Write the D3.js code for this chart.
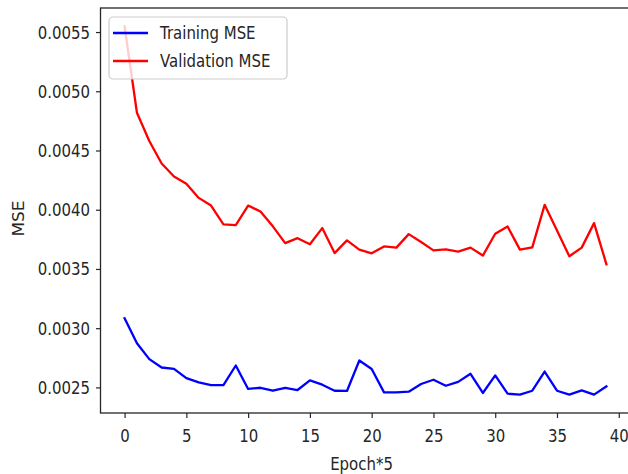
<!DOCTYPE html>
<html>
<head>
<meta charset="utf-8">
<script src="https://cdn.jsdelivr.net/npm/d3@7"></script>
<style>
  html, body { margin: 0; padding: 0; background: #fff; }
  svg { display: block; }
  text { font-family: "DejaVu Sans", sans-serif; fill: #262626; }
</style>
</head>
<body>
<svg id="chart" width="628" height="474"></svg>
<script>
// Epoch index (each step = 5 epochs)
const epochs = d3.range(0, 40);

const trainingMSE = [
  0.003083, 0.002873, 0.002739, 0.002668, 0.002657, 0.002579, 0.002542, 0.002520, 0.002520, 0.002685,
  0.002487, 0.002497, 0.002472, 0.002497, 0.002478, 0.002559, 0.002523, 0.002472, 0.002470, 0.002727,
  0.002655, 0.002458, 0.002458, 0.002464, 0.002529, 0.002565, 0.002514, 0.002547, 0.002615, 0.002453,
  0.002601, 0.002447, 0.002439, 0.002472, 0.002634, 0.002472, 0.002439, 0.002475, 0.002439, 0.002508
];

const validationMSE = [
  0.005548, 0.004819, 0.004580, 0.004390, 0.004280, 0.004220, 0.004100, 0.004035, 0.003876, 0.003870,
  0.004035, 0.003985, 0.003860, 0.003718, 0.003760, 0.003708, 0.003845, 0.003634, 0.003741, 0.003663,
  0.003632, 0.003690, 0.003680, 0.003794, 0.003727, 0.003657, 0.003665, 0.003646, 0.003680, 0.003613,
  0.003797, 0.003859, 0.003663, 0.003682, 0.004041, 0.003825, 0.003607, 0.003680, 0.003887, 0.003540
];

const xTicks = [0, 5, 10, 15, 20, 25, 30, 35, 40];
const yTicks = [0.0025, 0.0030, 0.0035, 0.0040, 0.0045, 0.0050, 0.0055];

const series = [
  { name: "Training MSE", values: trainingMSE, color: "#0000ff" },
  { name: "Validation MSE", values: validationMSE, color: "#ff0000" }
];

const svg = d3.select("#chart");
const plot = { left: 100.5, right: 630.5, top: 8, bottom: 413 };
const sx = 0.88;     // horizontal squeeze of glyphs
const fontSize = 17;

const x = d3.scaleLinear().domain([-1.95, 40.95]).range([plot.left, plot.right]);
const y = d3.scaleLinear().domain([0.002284, 0.005703]).range([plot.bottom, plot.top]);

// Lines
const line = d3.line().x((d, i) => x(epochs[i])).y(d => y(d));
series.forEach(s => {
  svg.append("path")
    .datum(s.values)
    .attr("d", line)
    .attr("fill", "none")
    .attr("stroke", s.color)
    .attr("stroke-width", 2.3)
    .attr("stroke-linejoin", "round")
    .attr("stroke-linecap", "square");
});

// Axes
const yAxis = svg.append("g")
  .attr("transform", `translate(${plot.left},0)`)
  .call(d3.axisLeft(y).tickValues(yTicks).tickFormat(d3.format(".4f")).tickSize(4.5).tickPadding(6));
const xAxis = svg.append("g")
  .attr("transform", `translate(0,${plot.bottom})`)
  .call(d3.axisBottom(x).tickValues(xTicks).tickFormat(d3.format("d")).tickSize(5).tickPadding(6));

[yAxis, xAxis].forEach(g => {
  g.select(".domain").remove();
  g.selectAll(".tick line").attr("stroke", "#262626").attr("stroke-width", 1.2);
  g.selectAll(".tick text")
    .style("font-size", fontSize + "px")
    .attr("fill", "#262626");
});
yAxis.selectAll(".tick text")
  .attr("x", -10.5 / sx)
  .attr("dy", "0.35em")
  .attr("transform", `scale(${sx},1)`);
xAxis.selectAll(".tick text")
  .attr("y", 0)
  .attr("dy", 0)
  .attr("transform", `translate(0,29) scale(${sx},1)`);

// Spines
svg.append("rect")
  .attr("x", plot.left).attr("y", plot.top)
  .attr("width", plot.right - plot.left).attr("height", plot.bottom - plot.top)
  .attr("fill", "none").attr("stroke", "#262626").attr("stroke-width", 1.3);

// Axis labels
svg.append("text")
  .attr("transform", `translate(${(plot.left + plot.right) / 2 - 4},470) scale(${sx},1)`)
  .attr("text-anchor", "middle")
  .style("font-size", fontSize + "px")
  .text("Epoch*5");

svg.append("text")
  .attr("transform", `translate(24,${(plot.top + plot.bottom) / 2 + 8}) scale(${sx},1) rotate(-90)`)
  .attr("text-anchor", "middle")
  .style("font-size", fontSize + "px")
  .text("MSE");

// Legend
const legend = svg.append("g");
legend.append("rect")
  .attr("x", 109).attr("y", 17).attr("width", 178).attr("height", 62)
  .attr("rx", 4).attr("ry", 4)
  .attr("fill", "#fff").attr("fill-opacity", 0.8)
  .attr("stroke", "#cccccc").attr("stroke-width", 1.2);
series.forEach((s, i) => {
  const cy = 33 + i * 28;
  legend.append("line")
    .attr("x1", 113).attr("x2", 148).attr("y1", cy).attr("y2", cy)
    .attr("stroke", s.color).attr("stroke-width", 2.5);
  legend.append("text")
    .attr("transform", `translate(160,${cy}) scale(${sx},1)`)
    .attr("dy", "0.35em")
    .style("font-size", fontSize + "px")
    .text(s.name);
});
</script>
</body>
</html>
